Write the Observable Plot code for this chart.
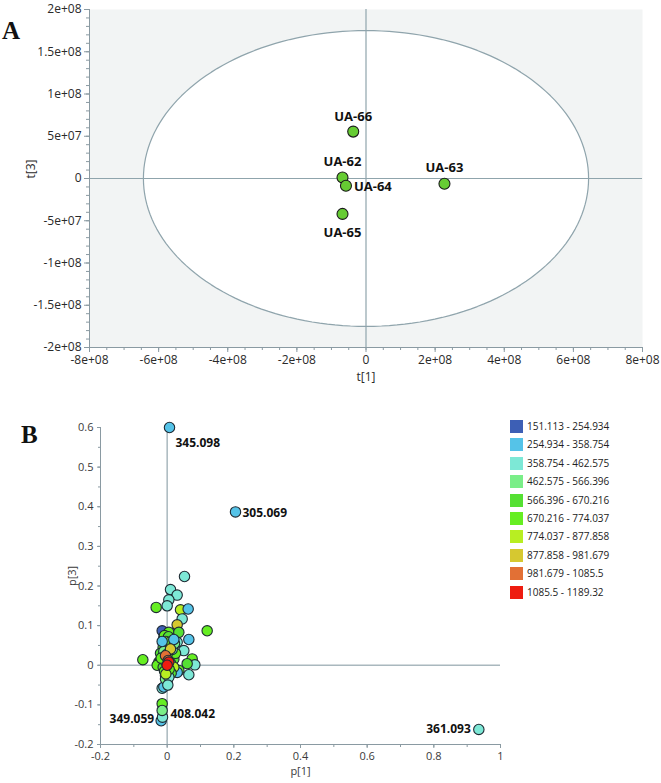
<!DOCTYPE html>
<html>
<head>
<meta charset="utf-8">
<script src="https://cdn.jsdelivr.net/npm/d3@7"></script>
<script src="https://cdn.jsdelivr.net/npm/@observablehq/plot@0.6"></script>
<style>
  html, body { margin: 0; padding: 0; background: #fff; }
  #wrap { position: relative; width: 661px; height: 783px; font-family: "Open Sans", sans-serif; }
  .panel { position: absolute; left: 0; }
  .panel svg { overflow: visible; }
  .tag { position: absolute; font-family: "Liberation Serif", serif; font-weight: bold; font-size: 25px; color: #111; }
  #legend { position: absolute; left: 510px; top: 420px; font-size: 10px; color: #222; }
  .row { position: relative; height: 18.4px; }
  .sw { position: absolute; left: 0; top: 0; width: 13px; height: 13px; }
  .lt { position: absolute; left: 17px; top: -1px; white-space: nowrap; line-height: 14px; }
</style>
</head>
<body>
<div id="wrap">
  <div class="tag" style="left:2px;top:17px;">A</div>
  <div class="tag" style="left:21px;top:421px;">B</div>
  <div id="panelA" class="panel" style="top:4px;"></div>
  <div id="panelB" class="panel" style="top:390px;"></div>
  <div id="legend"></div>
</div>
<script>
// ---------- Panel A data (score plot t[1] vs t[3]) ----------
const samplesA = ["UA-66", "UA-62", "UA-64", "UA-63", "UA-65"];
const t1 = [-3.7e7, -6.8e7, -5.8e7, 2.27e8, -6.8e7];
const t3 = [5.55e7, 1.2e6, -8.6e6, -6.2e6, -4.19e7];
const ellipseRadiusT1 = 6.44e8;
const ellipseRadiusT3 = 1.75e8;

const xTicksA = [-8e8, -6e8, -4e8, -2e8, 0, 2e8, 4e8, 6e8, 8e8];
const xTickLabelsA = ["-8e+08", "-6e+08", "-4e+08", "-2e+08", "0", "2e+08", "4e+08", "6e+08", "8e+08"];
const yTicksA = [-2e8, -1.5e8, -1e8, -5e7, 0, 5e7, 1e8, 1.5e8, 2e8];
const yTickLabelsA = ["-2e+08", "-1.5e+08", "-1e+08", "-5e+07", "0", "5e+07", "1e+08", "1.5e+08", "2e+08"];

// ---------- Panel B data (loading plot p[1] vs p[3]) ----------
const p1 = [
  0.007, 0.205, 0.935, -0.018, -0.014,
  0.052, 0.010, 0.030, 0.005, -0.033, 0.000, 0.040, 0.063, 0.045, 0.030,
  0.120, -0.015, 0.005, 0.035, 0.030, 0.065, 0.050,
  -0.073, -0.025, 0.075, 0.083, 0.060, 0.035, 0.065, 0.030, -0.005, 0.000,
  -0.015, -0.010, -0.015, -0.015,
  -0.010, 0.000, -0.005, 0.015, -0.012, 0.005, -0.020, 0.012, -0.008, 0.020,
  -0.020, -0.030, 0.010, -0.012, 0.020, -0.008, 0.012, -0.005, 0.005, 0.025,
  -0.008, 0.004, -0.004, 0.008, -0.010, 0.000, -0.006, 0.006, -0.004, 0.002,
  0.015, 0.022, -0.018,
  -0.015, 0.020, 0.010, -0.005, 0.003, 0.005, 0.000
];
const p3 = [
  0.600, 0.387, -0.162, -0.140, -0.131,
  0.224, 0.191, 0.177, 0.165, 0.146, 0.150, 0.140, 0.142, 0.117, 0.102,
  0.087, 0.087, 0.083, 0.083, 0.058, 0.065, 0.037,
  0.014, 0.008, 0.016, 0.001, 0.004, -0.013, -0.024, -0.018, -0.026, -0.043,
  -0.058, -0.055, -0.097, -0.114,
  0.070, 0.065, 0.055, 0.050, 0.045, 0.035, 0.030, 0.025, 0.020, 0.015,
  0.010, 0.000, 0.005, -0.005, -0.005, -0.015, -0.020, -0.035, -0.030, 0.030,
  0.075, 0.072, 0.060, 0.058, 0.035, 0.028, 0.010, -0.010, -0.022, -0.050,
  0.040, 0.055, 0.018,
  0.060, 0.065, 0.041, 0.024, 0.012, 0.008, 0.000
];
// mass class index (0..9) of each variable
const massClass = [
  1, 1, 2, 1, 2,
  2, 2, 2, 2, 5, 2, 6, 1, 2, 7,
  5, 0, 5, 4, 2, 1, 2,
  5, 4, 5, 2, 4, 5, 2, 1, 5, 2,
  2, 1, 5, 3,
  1, 4, 2, 2, 5, 6, 4, 3, 5, 4,
  6, 5, 3, 4, 6, 5, 4, 3, 2, 5,
  5, 4, 6, 5, 3, 5, 4, 5, 6, 2,
  2, 3, 5,
  1, 1, 7, 8, 8, 9, 9
];
const pointLabels = ["345.098", "305.069", "361.093", "349.059", "408.042"];

const xTicksB = [-0.2, 0, 0.2, 0.4, 0.6, 0.8, 1];
const xTickLabelsB = ["-0.2", "0", "0.2", "0.4", "0.6", "0.8", "1"];
const yTicksB = [-0.2, -0.1, 0, 0.1, 0.2, 0.3, 0.4, 0.5, 0.6];
const yTickLabelsB = ["-0.2", "-0.1", "0", "0.1", "0.2", "0.3", "0.4", "0.5", "0.6"];

const legendLabels = [
  "151.113 - 254.934", "254.934 - 358.754", "358.754 - 462.575", "462.575 - 566.396",
  "566.396 - 670.216", "670.216 - 774.037", "774.037 - 877.858", "877.858 - 981.679",
  "981.679 - 1085.5", "1085.5 - 1189.32"
];
const legendColors = [
  "#3d5fb5", "#55c3e8", "#7de8d6", "#7aee88", "#55e033",
  "#66ee22", "#b8ee22", "#d6c830", "#e27035", "#ee1c10"
];

// ---------- styles ----------
const font = '"Open Sans", sans-serif';
const guide = "#8fa4ac";
const axisGray = "#8a9aa2";
const textGray = "#2a2a2a";

// ---------- Panel A ----------
const tableA = samplesA.map((s, i) => ({name: s, x: t1[i], y: t3[i]}));
const ellipse = d3.range(0, 361, 2).map(a => ({
  x: ellipseRadiusT1 * Math.cos(a * Math.PI / 180),
  y: ellipseRadiusT3 * Math.sin(a * Math.PI / 180)
}));
const labelPlaceA = {
  "UA-66": {dx: 0, dy: -15, anchor: "middle"},
  "UA-62": {dx: 0, dy: -16, anchor: "middle"},
  "UA-64": {dx: 8, dy: 1, anchor: "start"},
  "UA-63": {dx: 0, dy: -16, anchor: "middle"},
  "UA-65": {dx: 0, dy: 19, anchor: "middle"}
};
const fmtA = (ticks, labels) => d => labels[ticks.findIndex(t => Math.abs(t - d) < 1e-9 * Math.max(1, Math.abs(t)))] ?? "";

const plotA = Plot.plot({
  width: 661, height: 388,
  marginLeft: 89, marginRight: 19, marginTop: 5, marginBottom: 45,
  style: {fontFamily: font, fontSize: "12px", background: "transparent", overflow: "visible"},
  x: {domain: [-8e8, 8e8]},
  y: {domain: [-2e8, 2e8]},
  marks: [
    Plot.frame({fill: "#f2f4f4", stroke: "none"}),
    Plot.line(ellipse, {x: "x", y: "y", fill: "white", stroke: guide, strokeWidth: 1.2}),
    Plot.ruleX([0], {stroke: guide, strokeWidth: 1.2}),
    Plot.ruleY([0], {stroke: guide, strokeWidth: 1.2}),
    Plot.ruleX([-8e8], {stroke: axisGray}),
    Plot.ruleY([-2e8], {stroke: axisGray}),
    Plot.axisY({ticks: d3.range(-2e8, 2.0001e8, 1e7), tickSize: 3, tickFormat: () => "", stroke: axisGray, label: null}),
    Plot.axisY({ticks: yTicksA, tickSize: 5, tickPadding: 3, tickFormat: fmtA(yTicksA, yTickLabelsA), stroke: axisGray, fill: textGray, fontSize: 12, label: null}),
    Plot.axisX({ticks: d3.range(-8e8, 8.0001e8, 5e7), tickSize: 3, tickFormat: () => "", stroke: axisGray, label: null}),
    Plot.axisX({ticks: xTicksA, tickSize: 5, tickPadding: 3, tickFormat: fmtA(xTicksA, xTickLabelsA), stroke: axisGray, fill: textGray, fontSize: 12, label: null}),
    Plot.text(["t[1]"], {text: d => d, frameAnchor: "bottom", dy: 33, fill: textGray, fontSize: 12}),
    Plot.text(["t[3]"], {text: d => d, frameAnchor: "left", dx: -58, rotate: -90, fill: textGray, fontSize: 12}),
    Plot.dot(tableA, {x: "x", y: "y", r: 5.5, fill: "#66cc33", stroke: "#1a1a1a", strokeWidth: 1.1}),
    ...Object.entries(labelPlaceA).map(([name, p]) =>
      Plot.text(tableA.filter(d => d.name === name), {
        x: "x", y: "y", text: "name", dx: p.dx, dy: p.dy, textAnchor: p.anchor,
        fontWeight: "bold", fontSize: 13, fill: "#111"
      }))
  ]
});
document.getElementById("panelA").appendChild(plotA);

// ---------- Panel B ----------
const tableB = p1.map((v, i) => ({x: v, y: p3[i], cls: legendLabels[massClass[i]], label: pointLabels[i] ?? null}));
const labelPlaceB = {
  "345.098": {dx: 6, dy: 16, anchor: "start"},
  "305.069": {dx: 7, dy: 1, anchor: "start"},
  "361.093": {dx: -8, dy: 0, anchor: "end"},
  "349.059": {dx: -7, dy: -2, anchor: "end"},
  "408.042": {dx: 8, dy: -3, anchor: "start"}
};

const plotB = Plot.plot({
  width: 520, height: 393,
  marginLeft: 100, marginRight: 20, marginTop: 37, marginBottom: 39,
  style: {fontFamily: font, fontSize: "11px", background: "transparent", overflow: "visible"},
  x: {domain: [-0.2, 1]},
  y: {domain: [-0.2, 0.6]},
  color: {type: "ordinal", domain: legendLabels, range: legendColors},
  marks: [
    Plot.ruleX([0], {stroke: "#a9b8be", strokeWidth: 1.5}),
    Plot.ruleY([0], {stroke: "#a9b8be", strokeWidth: 1.5}),
    Plot.ruleX([-0.2], {stroke: axisGray}),
    Plot.ruleY([-0.2], {stroke: axisGray}),
    Plot.axisY({ticks: d3.range(-0.2, 0.6001, 0.05), tickSize: 2, tickFormat: () => "", stroke: axisGray, label: null}),
    Plot.axisY({ticks: yTicksB, tickSize: 3, tickPadding: 4, tickFormat: fmtA(yTicksB, yTickLabelsB), stroke: axisGray, fill: "#3a3a3a", fontSize: 11, label: null}),
    Plot.axisX({ticks: d3.range(-0.2, 1.0001, 0.1), tickSize: 3, tickFormat: () => "", stroke: axisGray, label: null}),
    Plot.axisX({ticks: xTicksB, tickSize: 4, tickPadding: 4, tickFormat: fmtA(xTicksB, xTickLabelsB), stroke: axisGray, fill: "#3a3a3a", fontSize: 11, label: null}),
    Plot.text(["p[1]"], {text: d => d, frameAnchor: "bottom", dy: 30, fill: "#3a3a3a", fontSize: 11}),
    Plot.text(["p[3]"], {text: d => d, frameAnchor: "left", dx: -28, rotate: -90, fill: "#3a3a3a", fontSize: 11}),
    Plot.dot(tableB, {x: "x", y: "y", r: 5.2, fill: "cls", stroke: "#1e2a33", strokeWidth: 1.1}),
    ...Object.entries(labelPlaceB).map(([name, p]) =>
      Plot.text(tableB.filter(d => d.label === name), {
        x: "x", y: "y", text: "label", dx: p.dx, dy: p.dy, textAnchor: p.anchor,
        fontWeight: "bold", fontSize: 12, fill: "#111"
      }))
  ]
});
document.getElementById("panelB").appendChild(plotB);

// ---------- Legend ----------
const legend = document.getElementById("legend");
legendLabels.forEach((lab, i) => {
  const row = document.createElement("div");
  row.className = "row";
  row.innerHTML = `<div class="sw" style="background:${legendColors[i]}"></div><div class="lt">${lab}</div>`;
  legend.appendChild(row);
});
</script>
</body>
</html>
